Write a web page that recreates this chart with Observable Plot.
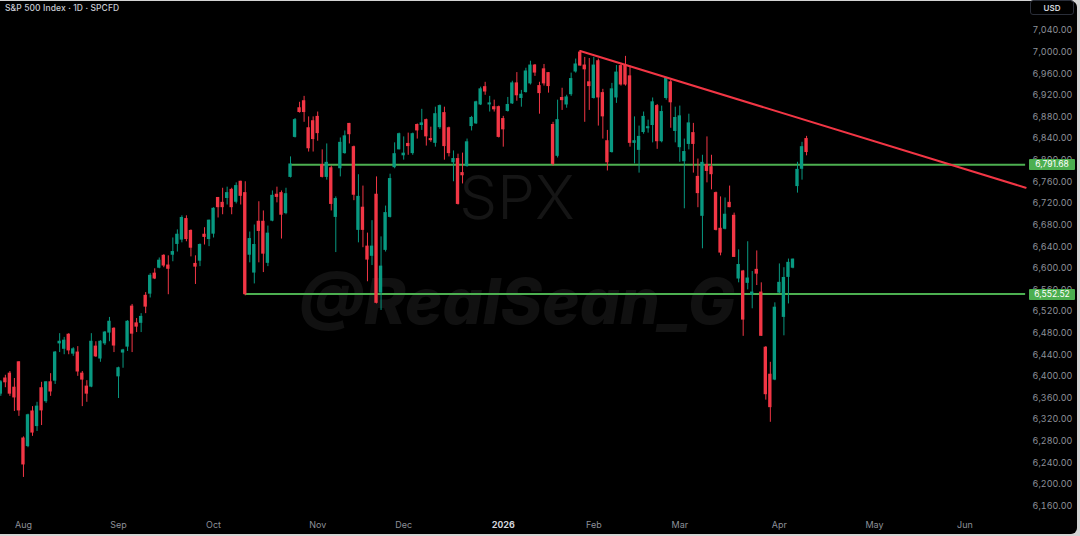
<!DOCTYPE html>
<html><head><meta charset="utf-8">
<script src="https://cdn.jsdelivr.net/npm/d3@7"></script>
<script src="https://cdn.jsdelivr.net/npm/@observablehq/plot@0.6"></script>
<style>
html,body{margin:0;padding:0;background:#d4d4d4;width:1080px;height:536px;overflow:hidden;font-family:Inter,"DejaVu Sans",sans-serif}
#panel{position:absolute;left:0;top:1px;width:1077px;height:533px;background:#000;border-radius:0 6px 6px 0;overflow:hidden}
#chart{position:absolute;left:0;top:-1px}
.wm{position:absolute;white-space:nowrap;transform:translate(-50%,-50%);line-height:1}
#title{position:absolute;left:5px;top:3px;font-size:8.5px;color:#c9ccd4;font-weight:500;letter-spacing:0.1px}
#usd{position:absolute;left:1030px;top:0px;width:44px;height:15px;border:1px solid #2a2e39;border-radius:3px;color:#d1d4dc;font-size:8px;font-weight:600;text-align:center;line-height:15px;box-sizing:border-box}
.lvl{position:absolute;left:1029px;width:46px;height:11px;background:#4caf50;color:#fff;font-size:8.5px;text-align:center;line-height:11px;border-radius:1px}
</style></head>
<body>
<div id="panel">
  <div class="wm" style="left:517px;top:196px;font-size:60px;font-weight:300;color:#151515;">SPX</div>
  <div class="wm" style="left:517px;top:300px;font-size:63px;font-weight:800;font-style:italic;color:#111111;">@RealSean_G</div>
  <div id="chart"></div>
</div>
<div id="title">S&amp;P 500 Index · 1D · SPCFD</div>
<div id="usd">USD</div>
<script>
// Daily bars of the S&P 500, bar number counted in trading days from Aug 1, 2025 (first bar = Jul 25, 2025)
const firstBar = -5;
const open = [
6368,6396,6405,6379,6426,6285,6271,6335,6308,6378,
6354,6389,6392,6461,6451,6477,6442,6444,6405,6381,
6381,6455,6433,6461,6481,6488,6400,6444,6455,6529,
6498,6499,6549,6553,6590,6601,6623,6605,6625,6645,
6653,6691,6669,6608,6614,6662,6654,6664,6730,6721,
6730,6745,6723,6760,6739,6625,6592,6686,6686,6610,
6688,6736,6739,6702,6769,6843,6896,6909,6859,6872,
6880,6791,6769,6785,6695,6785,6813,6867,6824,6671,
6712,6640,6623,6736,6555,6634,6695,6787,6820,6809,
6830,6813,6865,6865,6874,6839,6832,6861,6887,6859,
6796,6802,6776,6789,6863,6868,6903,6935,6903,6898,
6898,6876,6891,6905,6942,6915,6926,6942,6975,6937,
6968,6961,6865,6808,6915,6903,6922,6964,6999,6975,
6944,6915,6983,6924,6835,6815,6916,6974,6975,6955,
6832,6819,6852,6859,6865,6900,6835,6915,6944,6854,
6824,6798,6830,6850,6769,6697,6791,6787,6739,6673,
6673,6721,6697,6581,6594,6573,6551,6597,6555,6453,
6403,6394,6555,6510,6584,6601,6752,6784,6839];
const high = [
6392,6402,6409,6396,6427,6288,6330,6344,6352,6389,
6390,6405,6446,6479,6472,6479,6453,6455,6409,6392,
6479,6464,6466,6483,6509,6490,6417,6450,6503,6533,
6507,6516,6555,6590,6599,6619,6625,6623,6656,6671,
6697,6697,6671,6623,6645,6675,6689,6712,6731,6748,
6750,6748,6758,6761,6760,6667,6680,6723,6706,6678,
6743,6750,6743,6748,6806,6877,6907,6918,6880,6880,
6889,6819,6830,6789,6732,6841,6854,6868,6826,6773,
6752,6665,6688,6769,6658,6715,6774,6832,6850,6843,
6850,6850,6867,6894,6876,6861,6898,6902,6898,6861,
6817,6811,6813,6839,6881,6909,6935,6944,6918,6911,
6900,6881,6916,6946,6962,6929,6970,6983,6977,6944,
6977,6962,6870,6911,6933,6920,6961,6987,7002,6990,
6988,6990,6987,6931,6855,6942,6975,6979,6992,6974,
6880,6863,6889,6874,6915,6903,6900,6953,6948,6898,
6900,6839,6885,6868,6802,6809,6843,6809,6741,6732,
6730,6752,6702,6634,6596,6649,6594,6632,6573,6455,
6426,6536,6608,6601,6617,6617,6796,6833,6844];
const low = [
6363,6379,6363,6335,6326,6213,6268,6289,6298,6309,
6350,6363,6385,6444,6440,6440,6437,6400,6344,6352,
6379,6435,6426,6457,6464,6444,6359,6415,6446,6444,
6481,6481,6516,6545,6579,6599,6601,6551,6612,6630,
6647,6649,6621,6570,6603,6643,6640,6656,6693,6699,
6717,6699,6719,6717,6549,6610,6571,6610,6592,6603,
6686,6721,6654,6699,6767,6841,6887,6870,6815,6815,
6835,6767,6763,6706,6629,6769,6811,6830,6725,6647,
6638,6575,6605,6534,6522,6630,6693,6784,6819,6800,
6809,6809,6839,6855,6826,6833,6824,6857,6800,6806,
6760,6717,6756,6787,6854,6866,6901,6920,6889,6889,
6841,6824,6889,6903,6909,6898,6924,6939,6955,6885,
6937,6924,6789,6804,6892,6896,6918,6961,6974,6870,
6892,6913,6863,6839,6780,6813,6905,6937,6937,6824,
6793,6776,6848,6850,6832,6820,6832,6911,6859,6832,
6796,6710,6819,6776,6712,6636,6758,6745,6669,6623,
6671,6712,6620,6573,6474,6560,6525,6568,6474,6356,
6315,6392,6553,6475,6534,6599,6739,6763,6808];
const close = [
6389,6389,6368,6361,6337,6237,6328,6296,6344,6337,
6389,6372,6444,6464,6466,6448,6450,6409,6394,6368,
6464,6437,6464,6481,6501,6457,6415,6448,6501,6479,
6492,6510,6529,6586,6581,6614,6605,6599,6630,6662,
6693,6654,6638,6603,6643,6658,6688,6710,6713,6713,
6739,6713,6752,6734,6552,6654,6643,6669,6627,6664,
6734,6732,6699,6737,6792,6874,6889,6889,6822,6839,
6850,6769,6795,6719,6728,6832,6844,6848,6736,6732,
6671,6616,6640,6536,6603,6702,6765,6811,6848,6812,
6826,6848,6855,6868,6844,6837,6885,6900,6826,6813,
6802,6719,6772,6833,6878,6907,6931,6927,6905,6894,
6843,6857,6902,6942,6920,6921,6964,6975,6962,6924,
6942,6937,6793,6874,6911,6916,6950,6977,6975,6968,
6937,6975,6916,6881,6796,6931,6962,6940,6940,6832,
6835,6843,6880,6861,6907,6835,6889,6951,6907,6878,
6881,6815,6868,6830,6739,6795,6780,6774,6671,6629,
6699,6713,6621,6606,6505,6581,6555,6590,6475,6367,
6343,6527,6573,6582,6610,6616,6782,6824,6815];

// horizontal levels (price, bar where the line starts)
const levelPrices = [6791.68, 6552.52];
const levelFromBars = [59, 49];
// trend line (bar, price)
const trendBars = [123, 221.4];
const trendPrices = [7002, 6749];

const yTicks = [6160,6200,6240,6280,6320,6360,6400,6440,6480,6520,6560,6600,6640,6680,6720,6760,6800,6840,6880,6920,6960,7000,7040];
const monthTickBars = [0,21,42,65,84,106,126,145,167,188,208];
const monthLabels = ["Aug","Sep","Oct","Nov","Dec","2026","Feb","Mar","Apr","May","Jun"];

const GREEN = "#089981", RED = "#f23645", LEVEL = "#4caf50";
const xDomain = [-5.07, 221.4];
const yDomain = [6139.7, 7095.35];

const bars = open.map((o, k) => ({i: firstBar + k, open: o, high: high[k], low: low[k], close: close[k]}));
const levels = levelPrices.map((p, k) => ({price: p, from: levelFromBars[k]}));
const trend = trendBars.map((b, k) => ({bar: b, price: trendPrices[k]}));
const col = d => d.close >= d.open ? GREEN : RED;
const fmt = d3.format(",.2f");

const chart = Plot.plot({
  width: 1080, height: 536,
  marginLeft: 0, marginRight: 52, marginTop: 0, marginBottom: 18,
  style: {background: "transparent", color: "#8d9099", fontSize: "9px", fontFamily: "Inter, 'DejaVu Sans', sans-serif"},
  color: {type: "identity"},
  x: {domain: xDomain, ticks: monthTickBars, tickFormat: d => monthLabels[monthTickBars.indexOf(d)], tickSize: 0, tickPadding: 5, label: null},
  y: {domain: yDomain, axis: "right", ticks: yTicks, tickFormat: fmt, tickSize: 0, tickPadding: 7, label: null},
  marks: [
    Plot.ruleY(levels, {y: "price", x1: "from", x2: () => xDomain[1], stroke: LEVEL, strokeWidth: 2}),
    Plot.ruleX(bars, {x: "i", y1: "low", y2: "high", stroke: col, strokeWidth: 1}),
    Plot.rect(bars, {x1: d => d.i - 0.37, x2: d => d.i + 0.37, y1: "open", y2: "close", fill: col, insetTop: -0.5, insetBottom: -0.5}),
    Plot.line(trend, {x: "bar", y: "price", stroke: RED, strokeWidth: 2})
  ]
});
document.getElementById("chart").appendChild(chart);

d3.select(chart).selectAll("text").each(function() {
  if (this.textContent === "2026") d3.select(this).attr("font-weight", "bold").attr("fill", "#d1d4dc");
});

const ys = chart.scale("y");
levels.forEach(l => {
  const div = document.createElement("div");
  div.className = "lvl";
  div.style.top = (ys.apply(l.price) - 5.5) + "px";
  div.textContent = fmt(l.price);
  document.body.appendChild(div);
});
</script>
</body></html>
